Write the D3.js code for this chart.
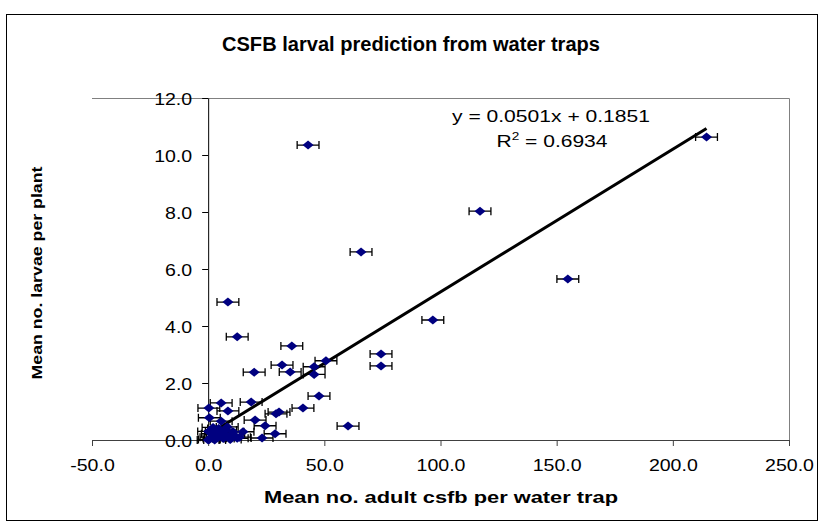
<!DOCTYPE html>
<html>
<head>
<meta charset="utf-8">
<script src="https://cdn.jsdelivr.net/npm/d3@7"></script>
<style>
  html, body { margin: 0; padding: 0; background: #fff; }
  text { font-family: "Liberation Sans", Arial, sans-serif; }
</style>
</head>
<body>
<div id="chart"></div>
<script>
// ---- data ----
const xTicks = [-50, 0, 50, 100, 150, 200, 250];
const yTicks = [0, 2, 4, 6, 8, 10, 12];
const adultsPerTrap = [
  214.5, 43, 117, 65.8, 154.8, 96.7, 8.5, 12.5, 36, 74.4,
  74.4, 31.8, 19.8, 35.3, 45.6, 50.7, 45.6, 47.7, 18.5, 5.6,
  0.3, 8.5, 0.5, 30.5, 29.2, 40.8, 20.2, 24.5, 60.2, 23.2,
  28.8, 15, 5.6, 2.1, 8.2, 10.7, 6, 0, 0.5, 1.2,
  2.5, 3.2, 4, 5, 6.5, 7.5, 8.8, 9.5, 11, 12.5,
  3.5, 1.8, 4.5, 0.2, 13.5, 2.8, 7
];
const larvaePerPlant = [
  10.63, 10.35, 8.03, 6.6, 5.65, 4.21, 4.84, 3.62, 3.3, 3.02,
  2.6, 2.63, 2.38, 2.39, 2.57, 2.78, 2.3, 1.54, 1.33, 1.3,
  1.12, 1.02, 0.78, 0.98, 0.92, 1.12, 0.7, 0.5, 0.49, 0.07,
  0.22, 0.29, 0.66, 0.44, 0.46, 0.29, 0.25, 0, 0.02, 0.1,
  0.05, 0.2, 0.08, 0.15, 0.05, 0.35, 0.12, 0.02, 0.18, 0.06,
  0.3, 0.22, 0.4, 0.3, 0.1, 0, 0.2
];
const xErrorValue = 4.7;
const trendSlope = 0.0501;
const trendIntercept = 0.1851;
const titleText = "CSFB larval prediction from water traps";
const xTitle = "Mean no. adult csfb per water trap";
const yTitle = "Mean no. larvae per plant";
const eqLine1 = "y = 0.0501x + 0.1851";

// ---- layout ----
const W = 822, H = 523;
const plot = { left: 92, right: 789, top: 98, bottom: 440 };
const fmt = d => d.toFixed(1);

const svg = d3.select("#chart").append("svg")
  .attr("width", W).attr("height", H);

svg.append("rect").attr("x", 0).attr("y", 0).attr("width", W).attr("height", H).attr("fill", "#fff");
svg.append("rect").attr("x", 6.5).attr("y", 14.5).attr("width", 811).attr("height", 506)
  .attr("fill", "none").attr("stroke", "#000").attr("stroke-width", 1);

const x = d3.scaleLinear().domain([-50, 250]).range([plot.left, plot.right]);
const y = d3.scaleLinear().domain([0, 12]).range([plot.bottom, plot.top]);

// plot area border (top & right)
svg.append("path")
  .attr("d", `M${plot.left},${plot.top + 0.5}H${plot.right + 0.5}V${plot.bottom}`)
  .attr("fill", "none").attr("stroke", "#808080").attr("stroke-width", 1);

// x axis
const xAxis = svg.append("g")
  .attr("transform", `translate(0,${y(0)})`)
  .call(d3.axisBottom(x).tickValues(xTicks).tickFormat(fmt).tickSize(6).tickSizeOuter(0));
xAxis.select(".domain").attr("stroke", "#404040");
xAxis.selectAll(".tick line").attr("stroke", "#404040");
xAxis.selectAll(".tick text").attr("font-size", 17).attr("fill", "#000")
  .attr("y", 0).attr("dy", 0).attr("transform", "translate(0,31) scale(1.15,1)")
  .attr("font-family", "Liberation Sans, Arial, sans-serif");

// y axis
const yAxis = svg.append("g")
  .attr("transform", `translate(${x(0)},0)`)
  .call(d3.axisLeft(y).tickValues(yTicks).tickFormat(fmt).tickSize(6).tickSizeOuter(0));
yAxis.select(".domain").attr("stroke", "#000");
yAxis.selectAll(".tick line").attr("stroke", "#000");
yAxis.selectAll(".tick text").attr("font-size", 17).attr("fill", "#000")
  .attr("x", 0).attr("dy", "0.36em").attr("transform", "translate(-16,0) scale(1.15,1)")
  .attr("font-family", "Liberation Sans, Arial, sans-serif");

const pts = adultsPerTrap.map((v, i) => ({ x: v, y: larvaePerPlant[i] }));

// error bars
const eb = svg.append("g").attr("stroke", "#000").attr("stroke-width", 1.3).attr("fill", "none");
pts.forEach(p => {
  const x0 = x(p.x - xErrorValue), x1 = x(p.x + xErrorValue), yy = y(p.y);
  eb.append("path").attr("d", `M${x0},${yy}H${x1}M${x0},${yy - 4}V${yy + 4}M${x1},${yy - 4}V${yy + 4}`);
});

// trend line
const xMin = d3.min(adultsPerTrap), xMax = d3.max(adultsPerTrap);
svg.append("line")
  .attr("x1", x(xMin)).attr("y1", y(trendSlope * xMin + trendIntercept))
  .attr("x2", x(xMax)).attr("y2", y(trendSlope * xMax + trendIntercept))
  .attr("stroke", "#000").attr("stroke-width", 3);

// markers
svg.append("g").selectAll("path").data(pts).join("path")
  .attr("transform", d => `translate(${x(d.x)},${y(d.y)})`)
  .attr("d", "M0,-4.5L5.5,0L0,4.5L-5.5,0Z")
  .attr("fill", "#000080");

// titles
svg.append("text").attr("x", 411).attr("y", 51).attr("text-anchor", "middle")
  .attr("font-size", 20).attr("font-weight", "bold")
  .attr("textLength", 378).attr("lengthAdjust", "spacingAndGlyphs").text(titleText);
svg.append("text").attr("x", 441).attr("y", 503).attr("text-anchor", "middle")
  .attr("font-size", 17).attr("font-weight", "bold")
  .attr("textLength", 354).attr("lengthAdjust", "spacingAndGlyphs").text(xTitle);
svg.append("text").attr("transform", "translate(42,273) rotate(-90)").attr("text-anchor", "middle")
  .attr("font-size", 15).attr("font-weight", "bold")
  .attr("textLength", 213).attr("lengthAdjust", "spacingAndGlyphs").text(yTitle);

// equation
svg.append("text").attr("x", 551).attr("y", 122).attr("text-anchor", "middle")
  .attr("font-size", 17).attr("textLength", 198).attr("lengthAdjust", "spacingAndGlyphs").text(eqLine1);
const r2 = svg.append("text").attr("x", 552).attr("y", 147).attr("text-anchor", "middle").attr("font-size", 17)
  .attr("textLength", 111).attr("lengthAdjust", "spacingAndGlyphs");
r2.append("tspan").text("R");
r2.append("tspan").attr("font-size", 11).attr("dy", -7).text("2");
r2.append("tspan").attr("dy", 7).text(" = 0.6934");
</script>
</body>
</html>
